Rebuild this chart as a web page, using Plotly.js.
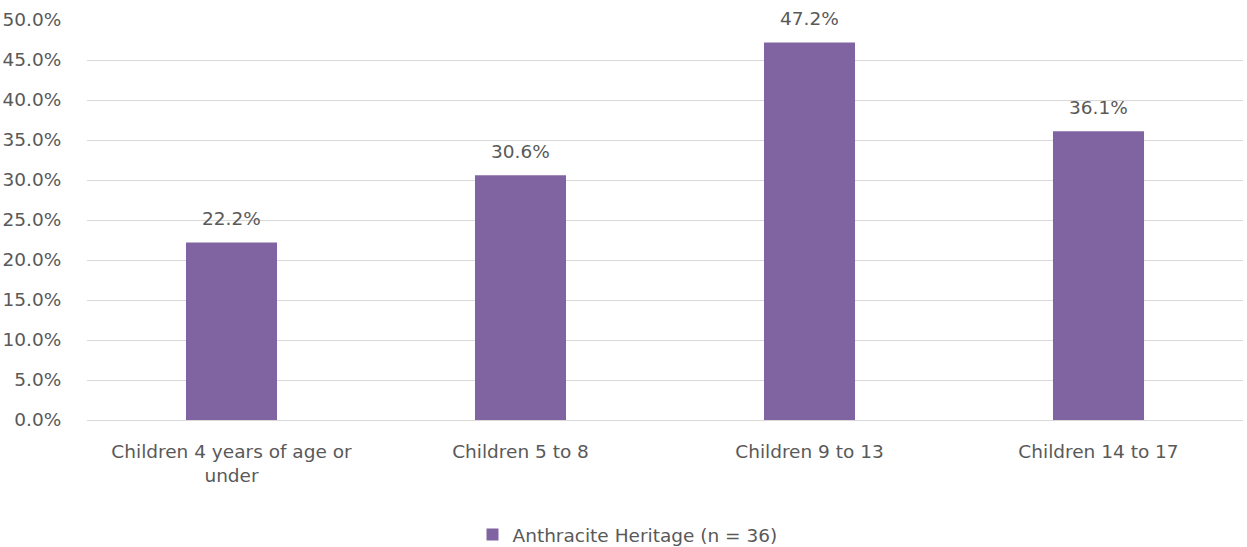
<!DOCTYPE html>
<html>
<head>
<meta charset="utf-8">
<script src="https://cdn.plot.ly/plotly-3.0.1.min.js"></script>
<style>
  html, body { margin: 0; padding: 0; background: #ffffff; }
  #chart { width: 1247px; height: 547px; }
</style>
</head>
<body>
<div id="chart"></div>
<script>
// Share of households with children in each age group
const categories = [
  "Children 4 years of age or<br>under",
  "Children 5 to 8",
  "Children 9 to 13",
  "Children 14 to 17"
];
const values = [0.222, 0.306, 0.472, 0.361];
const seriesName = "Anthracite Heritage (n = 36)";
const yTickValues = [0, 0.05, 0.10, 0.15, 0.20, 0.25, 0.30, 0.35, 0.40, 0.45, 0.50];

const textColor = "#595959";
const fontFamily = "'DejaVu Sans', 'Open Sans', sans-serif";
const fontSize = 18.5;

const fmtPct = v => (v * 100).toFixed(1) + "%";

const trace = {
  type: "bar",
  x: categories,
  y: values,
  name: seriesName,
  marker: { color: "#8064a2" },
  hoverinfo: "x+y",
  showlegend: true
};

// value labels sitting above each bar
const valueLabels = categories.map((c, i) => ({
  x: c,
  y: values[i],
  xref: "x",
  yref: "y",
  text: fmtPct(values[i]),
  showarrow: false,
  yanchor: "bottom",
  yshift: 11,
  font: { family: fontFamily, size: fontSize, color: textColor }
}));

const layout = {
  width: 1247,
  height: 547,
  margin: { l: 87, r: 4, t: 20, b: 127 },
  paper_bgcolor: "#ffffff",
  plot_bgcolor: "#ffffff",
  font: { family: fontFamily, size: fontSize, color: textColor },
  bargap: 0.685,
  showlegend: true,
  legend: {
    orientation: "h",
    xref: "container",
    yref: "container",
    x: 0.5 + 4 / 1247,
    xanchor: "center",
    y: 12 / 547,
    yanchor: "middle",
    font: { family: fontFamily, size: fontSize, color: textColor },
    itemwidth: 30
  },
  annotations: valueLabels,
  xaxis: {
    type: "category",
    automargin: false,
    showgrid: false,
    showline: false,
    zeroline: false,
    ticks: "outside",
    ticklen: 15,
    tickcolor: "rgba(0,0,0,0)",
    tickfont: { family: fontFamily, size: fontSize, color: textColor }
  },
  yaxis: {
    range: [0, 0.5],
    automargin: false,
    tickvals: yTickValues,
    tickformat: ".1%",
    showgrid: true,
    gridcolor: "#d9d9d9",
    gridwidth: 1,
    zeroline: true,
    zerolinecolor: "#d9d9d9",
    zerolinewidth: 1,
    showline: false,
    ticks: "outside",
    ticklen: 21,
    tickcolor: "rgba(0,0,0,0)",
    tickfont: { family: fontFamily, size: fontSize, color: textColor }
  }
};

Plotly.newPlot("chart", [trace], layout, { displayModeBar: false, staticPlot: true });
</script>
</body>
</html>
